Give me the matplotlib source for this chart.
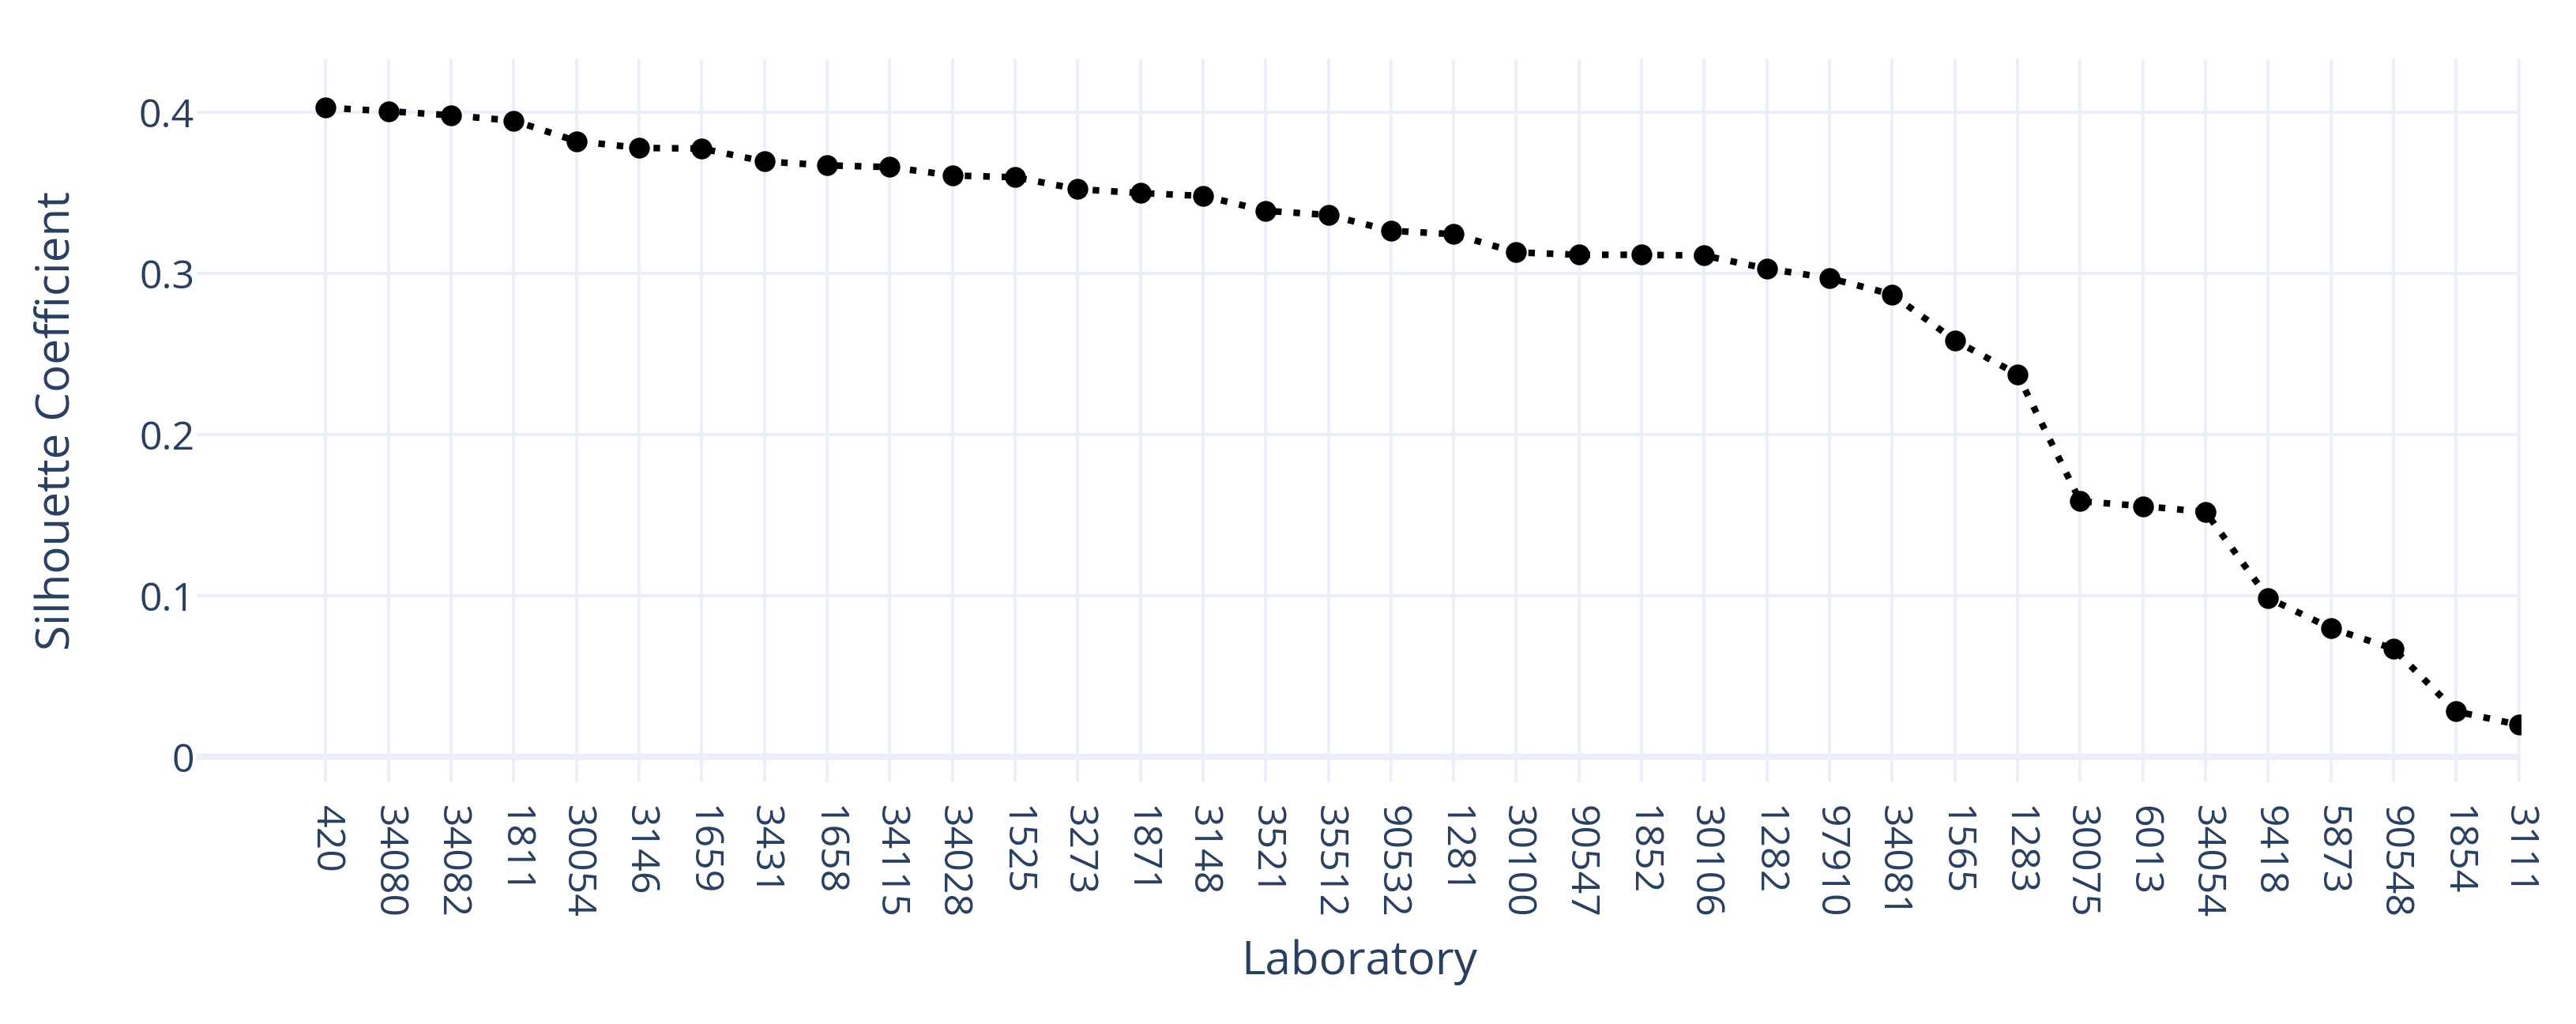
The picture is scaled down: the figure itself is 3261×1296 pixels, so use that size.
import matplotlib
matplotlib.use("Agg")
import matplotlib.pyplot as plt
import numpy as np

laboratories = ["420", "34080", "34082", "1811", "30054", "3146", "1659", "3431", "1658",
                "34115", "34028", "1525", "3273", "1871", "3148", "3521", "35512", "90532",
                "1281", "30100", "90547", "1852", "30106", "1282", "97910", "34081", "1565",
                "1283", "30075", "6013", "34054", "9418", "5873", "90548", "1854", "3111"]
silhouette = [0.4027, 0.4006, 0.3980, 0.3947, 0.3820, 0.3778, 0.3774, 0.3694, 0.3670,
              0.3659, 0.3607, 0.3596, 0.3522, 0.3498, 0.3480, 0.3388, 0.3362, 0.3264,
              0.3243, 0.3130, 0.3115, 0.3115, 0.3110, 0.3029, 0.2970, 0.2869, 0.2584,
              0.2373, 0.1586, 0.1556, 0.1520, 0.0986, 0.0799, 0.0671, 0.0282, 0.0199]
y_ticks = [0, 0.1, 0.2, 0.3, 0.4]
y_tick_labels = ["0", "0.1", "0.2", "0.3", "0.4"]

W, H = 3261, 1296
DPI = 100
TXT = "#2a3f5f"
GRID = "#EBF0F8"
FONT = ["Open Sans", "DejaVu Sans"]
plt.rcParams['font.family'] = FONT

fig = plt.figure(figsize=(W / DPI, H / DPI), dpi=DPI)
fig.patch.set_facecolor("white")
left, right, top, bottom = 249, 3191, 75, 990
ax = fig.add_axes([left / W, 1 - bottom / H, (right - left) / W, (bottom - top) / H])
ax.set_facecolor("white")

x = np.arange(len(laboratories))
ax.plot(x, silhouette, color="black", linewidth=6, linestyle=(0, (1, 1.8)),
        marker="o", markersize=19, markerfacecolor="black", markeredgewidth=0,
        zorder=3, clip_on=True)

ax.set_xlim(-2.06, len(laboratories) - 1 + 0.03)
ax.set_ylim(-0.0157, 0.4328)

ax.set_xticks(x)
ax.set_xticklabels(laboratories, rotation=-90, fontsize=36, color=TXT, va="top", ha="center")
ax.set_yticks(y_ticks)
ax.set_yticklabels(y_tick_labels, fontsize=36, color=TXT)
ax.tick_params(axis="x", length=0, pad=21)
ax.tick_params(axis="y", length=0, pad=2)

for s in ax.spines.values():
    s.set_visible(False)

ax.grid(True, axis="x", color=GRID, linewidth=3, zorder=0)
ax.grid(True, axis="y", color=GRID, linewidth=3, zorder=0)
ax.axhline(0, color=GRID, linewidth=6, zorder=1)
ax.set_axisbelow(True)

fig.text(73 / W, 1 - 532 / H, "Silhouette Coefficient", rotation=90, fontsize=42,
         color=TXT, ha="center", va="center")
fig.text(1721 / W, 1 - 1233 / H, "Laboratory", fontsize=42, color=TXT,
         ha="center", va="baseline")

fig.savefig("out.png", dpi=DPI, facecolor="white")
